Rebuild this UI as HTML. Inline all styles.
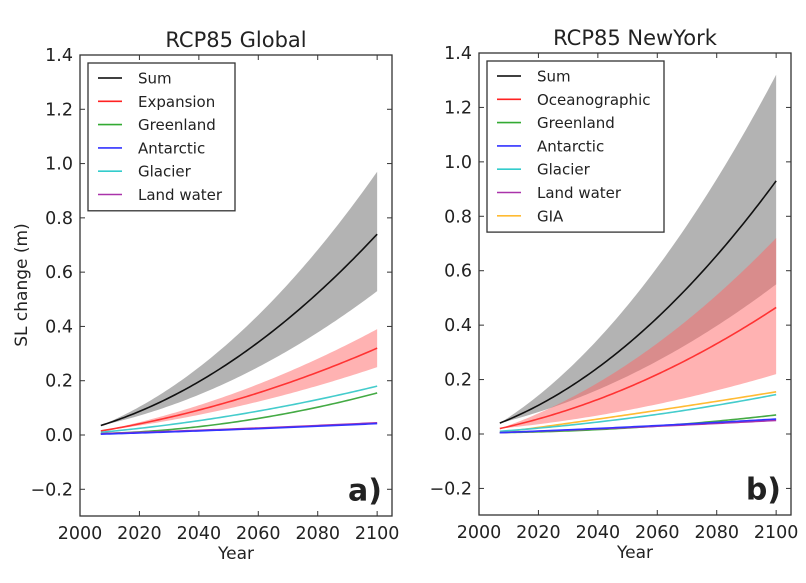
<!DOCTYPE html>
<html><head><meta charset="utf-8"><style>
body{margin:0;background:#fff}
svg text{font-family:"DejaVu Sans","Liberation Sans",sans-serif;fill:#222}
</style></head><body>
<svg id="s" width="806" height="578" xmlns="http://www.w3.org/2000/svg"></svg>
<script>
const S=document.getElementById('s');let h='';
function panel(L,R,T,B,y0,title,lab,legend,series,bands){
  const sx=(R-L)/105, sy=(y0-T)/1.4;
  const X=t=>L+(t-2000)*sx, Y=v=>y0-v*sy;
  const curve=(v0,v1,p)=>{let pts=[];for(let t=2007;t<=2100;t+=1){const s=(t-2007)/93;const f=(1-p)*s+p*s*s;pts.push([X(t),Y(v0+(v1-v0)*f)]);}return pts;};
  bands.forEach(b=>{const up=curve(b[0],b[1],b[3]),lo=curve(b[0],b[2],b[3]).reverse();
    h+=`<polygon points="${up.concat(lo).map(p=>p.join(',')).join(' ')}" fill="${b[4]}" opacity="${b[5]}"/>`;});
  series.forEach(s=>{h+=`<polyline points="${curve(s[0],s[1],s[2]).map(p=>p.join(',')).join(' ')}" fill="none" stroke="${s[3]}" stroke-width="1.6"/>`;});
  h+=`<rect x="${L}" y="${T}" width="${R-L}" height="${B-T}" fill="none" stroke="#333" stroke-width="1.3"/>`;
  for(let i=0;i<=5;i++){const x=X(2000+20*i);h+=`<line x1="${x}" y1="${B}" x2="${x}" y2="${B-5}" stroke="#333"/><line x1="${x}" y1="${T}" x2="${x}" y2="${T+5}" stroke="#333"/><text x="${x}" y="${B+23}" font-size="17.5" text-anchor="middle">${2000+20*i}</text>`;}
  for(let i=-1;i<=7;i++){const v=i*0.2,y=Y(v);h+=`<line x1="${L}" y1="${y}" x2="${L+5}" y2="${y}" stroke="#333"/><line x1="${R}" y1="${y}" x2="${R-5}" y2="${y}" stroke="#333"/><text x="${L-7}" y="${y+6}" font-size="17.5" text-anchor="end">${v<0?'\u2212'+(-v).toFixed(1):v.toFixed(1)}</text>`;}
  h+=`<text x="${(L+R)/2}" y="${T-8}" font-size="21" text-anchor="middle">${title}</text>`;
  h+=`<text x="${(L+R)/2}" y="${B+43}" font-size="17" text-anchor="middle">Year</text>`;
  h+=`<text x="${R-10}" y="${Y(-0.2)+11}" font-size="30" font-weight="bold" text-anchor="end" fill="#000">${lab}</text>`;
  const lw=legend.w, lh=legend.items.length*23.3+8;
  h+=`<rect x="${L+8}" y="${T+8}" width="${lw}" height="${lh}" fill="#fff" stroke="#333" stroke-width="1.3"/>`;
  legend.items.forEach((it,i)=>{const y=T+8+15+i*23.3;h+=`<line x1="${L+18}" y1="${y}" x2="${L+42}" y2="${y}" stroke="${it[1]}" stroke-width="1.6"/><text x="${L+58}" y="${y+5.5}" font-size="15">${it[0]}</text>`;});
}
panel(80,392,55,516,435,'RCP85 Global','a)',{w:147,items:[['Sum','#000'],['Expansion','#f22'],['Greenland','#3a3'],['Antarctic','#33f'],['Glacier','#3cc'],['Land water','#a3a']]},
 [[0.035,0.74,0.55,'#111'],[0.015,0.32,0.45,'#f33'],[0.005,0.155,0.8,'#4a4'],[0.01,0.18,0.45,'#4cc'],[0.005,0.045,0.2,'#a3a'],[0.003,0.042,0.2,'#33f']],
 [[0.035,0.97,0.53,0.55,'#999',0.75],[0.015,0.39,0.25,0.45,'#f66',0.5]]);
panel(479,791,53,515,434,'RCP85 NewYork','b)',{w:177,items:[['Sum','#000'],['Oceanographic','#f22'],['Greenland','#3a3'],['Antarctic','#33f'],['Glacier','#3cc'],['Land water','#a3a'],['GIA','#fb3']]},
 [[0.04,0.93,0.55,'#111'],[0.02,0.465,0.5,'#f33'],[0.005,0.155,0.1,'#fb3'],[0.01,0.145,0.45,'#4cc'],[0.005,0.07,0.8,'#4a4'],[0.005,0.05,0.2,'#a3a'],[0.005,0.055,0.2,'#33f']],
 [[0.04,1.32,0.55,0.5,'#999',0.75],[0.02,0.72,0.22,0.5,'#f66',0.5]]);
h+=`<text transform="translate(27,285) rotate(-90)" font-size="17" text-anchor="middle">SL change (m)</text>`;
S.innerHTML=h;
</script>
</body></html>
